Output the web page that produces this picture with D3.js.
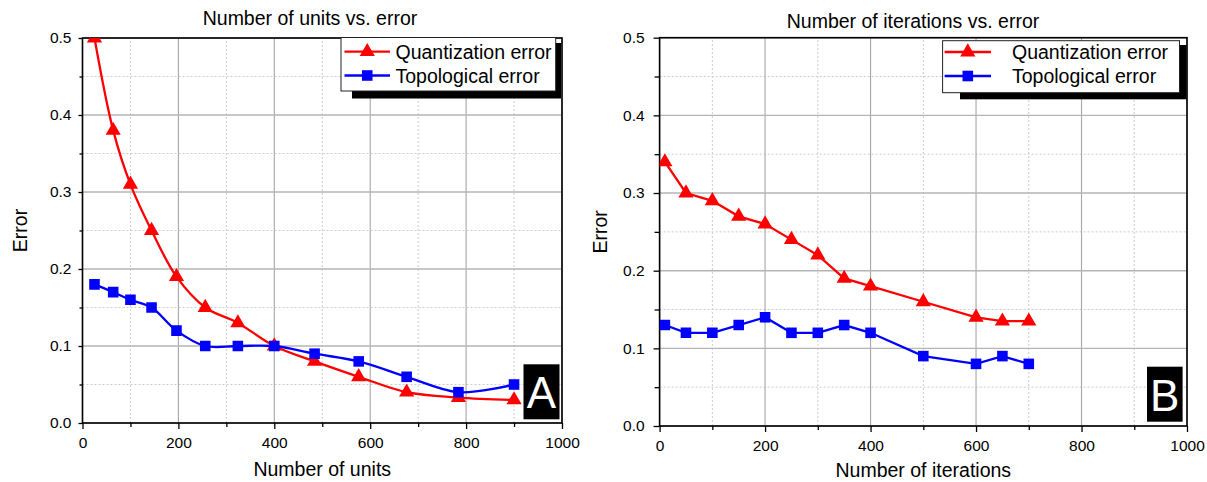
<!DOCTYPE html>
<html>
<head>
<meta charset="utf-8">
<script src="https://cdn.jsdelivr.net/npm/d3@7"></script>
<style>
  html, body { margin: 0; padding: 0; background: #fff; }
  svg { display: block; }
  text { font-family: "Liberation Sans", Arial, sans-serif; fill: #000; }
</style>
</head>
<body>
<svg id="chart" width="1207" height="482"></svg>
<script>
// ---- data ----
const unitsX     = [25, 64, 100, 144, 196, 256, 324, 400, 484, 576, 676, 784, 900];
const unitsQuant = [0.50, 0.38, 0.31, 0.25, 0.19, 0.15, 0.13, 0.10, 0.08, 0.06, 0.04, 0.033, 0.03];
const unitsTopo  = [0.18, 0.17, 0.16, 0.15, 0.12, 0.10, 0.10, 0.10, 0.09, 0.08, 0.06, 0.04, 0.05];

const iterX      = [10, 50, 100, 150, 200, 250, 300, 350, 400, 500, 600, 650, 700];
const iterQuant  = [0.34, 0.30, 0.29, 0.27, 0.26, 0.24, 0.22, 0.19, 0.18, 0.16, 0.14, 0.135, 0.135];
const iterTopo   = [0.13, 0.12, 0.12, 0.13, 0.14, 0.12, 0.12, 0.13, 0.12, 0.09, 0.08, 0.09, 0.08];

const xMajorTicks = [0, 200, 400, 600, 800, 1000];
const xMinorTicks = [100, 300, 500, 700, 900];
const yMajorTicks = [0.0, 0.1, 0.2, 0.3, 0.4, 0.5];
const yMinorTicks = [0.05, 0.15, 0.25, 0.35, 0.45];

const seriesNames = ["Quantization error", "Topological error"];
const panelTitles = ["Number of units vs. error", "Number of iterations vs. error"];
const xTitles = ["Number of units", "Number of iterations"];
const yTitle = "Error";
const panelLabels = ["A", "B"];

const RED = "#ff0000", BLUE = "#0000ff";
const svg = d3.select("#chart");

function drawPanel(o) {
  const x = d3.scaleLinear().domain([0, 1000]).range([o.x0, o.x1]);
  const y = d3.scaleLinear().domain([0, 0.5]).range([o.y0, o.y1]);
  const g = svg.append("g");

  // minor grid (dotted)
  g.selectAll(".vminor").data(xMinorTicks).enter().append("line")
    .attr("x1", d => x(d)).attr("x2", d => x(d)).attr("y1", o.y0).attr("y2", o.y1)
    .attr("stroke", "#cccccc").attr("stroke-width", 1).attr("stroke-dasharray", "2,2");
  g.selectAll(".hminor").data(yMinorTicks).enter().append("line")
    .attr("x1", o.x0).attr("x2", o.x1).attr("y1", d => y(d)).attr("y2", d => y(d))
    .attr("stroke", "#cccccc").attr("stroke-width", 1).attr("stroke-dasharray", "2,2");
  // major grid
  g.selectAll(".vmajor").data(xMajorTicks).enter().append("line")
    .attr("x1", d => x(d)).attr("x2", d => x(d)).attr("y1", o.y0).attr("y2", o.y1)
    .attr("stroke", "#a6a6a6").attr("stroke-width", 1.1);
  g.selectAll(".hmajor").data(yMajorTicks).enter().append("line")
    .attr("x1", o.x0).attr("x2", o.x1).attr("y1", d => y(d)).attr("y2", d => y(d))
    .attr("stroke", "#b4b4b4").attr("stroke-width", 1.4);

  // axes via d3
  const xAxis = d3.axisBottom(x).tickValues(xMajorTicks).tickSize(6).tickPadding(o.xPad).tickFormat(d3.format("d"));
  const xAxisMinor = d3.axisBottom(x).tickValues(xMinorTicks).tickSize(4).tickFormat("");
  const yAxis = d3.axisLeft(y).tickValues(yMajorTicks).tickSize(o.yTick).tickPadding(o.yPad).tickFormat(d3.format(".1f"));
  const yAxisMinor = d3.axisLeft(y).tickValues(yMinorTicks).tickSize(o.yTick - 1).tickFormat("");

  [[xAxis, "x"], [xAxisMinor, "x"], [yAxis, "y"], [yAxisMinor, "y"]].forEach(([ax, k]) => {
    const a = g.append("g")
      .attr("transform", k === "x" ? `translate(0,${o.y0})` : `translate(${o.x0},0)`)
      .call(ax);
    a.select(".domain").remove();
    a.selectAll("line").attr("stroke", "#000").attr("stroke-width", 1.3);
    a.selectAll("text").style("font-family", '"Liberation Sans", Arial, sans-serif')
      .style("font-size", "15.5px").attr("fill", "#000");
  });

  // frame
  g.append("rect").attr("x", o.x0).attr("y", o.y1)
    .attr("width", o.x1 - o.x0).attr("height", o.y0 - o.y1)
    .attr("fill", "none").attr("stroke", "#000").attr("stroke-width", 1.6);

  // clip
  const clipId = "clip" + o.idx;
  svg.append("clipPath").attr("id", clipId).append("rect")
    .attr("x", o.x0).attr("y", o.y1).attr("width", o.x1 - o.x0).attr("height", o.y0 - o.y1);
  const plot = g.append("g").attr("clip-path", `url(#${clipId})`);

  const series = [
    { vals: o.quant, color: RED, sym: d3.symbolTriangle, size: 100 },
    { vals: o.topo, color: BLUE, sym: d3.symbolSquare, size: 112 }
  ];
  const line = d3.line().x(d => x(d[0])).y(d => y(d[1])).curve(o.curve);
  series.forEach(s => {
    const pts = o.xs.map((v, i) => [v, s.vals[i]]);
    plot.append("path").datum(pts).attr("d", line)
      .attr("fill", "none").attr("stroke", s.color).attr("stroke-width", 2.3);
    plot.selectAll(null).data(pts).enter().append("path")
      .attr("d", d3.symbol().type(s.sym).size(s.size))
      .attr("transform", d => `translate(${x(d[0])},${y(d[1])})`)
      .attr("fill", s.color);
  });

  // titles
  svg.append("text").attr("x", o.titleX).attr("y", o.titleY).attr("text-anchor", "middle")
    .style("font-size", "19.5px").text(o.title);
  svg.append("text").attr("x", (o.x0 + o.x1) / 2).attr("y", o.xTitleY).attr("text-anchor", "middle")
    .style("font-size", "19.5px").text(o.xTitle);
  svg.append("text").attr("transform", `translate(${o.yTitleX},${(o.y0 + o.y1) / 2}) rotate(-90)`)
    .attr("text-anchor", "middle").style("font-size", "19.5px").text(yTitle);

  // legend
  const L = o.legend;
  svg.append("rect").attr("x", L.sx0).attr("y", L.sy0).attr("width", L.sx1 - L.sx0).attr("height", L.sy1 - L.sy0)
    .attr("fill", "#000");
  svg.append("rect").attr("x", L.x0).attr("y", L.y0).attr("width", L.x1 - L.x0).attr("height", L.y1 - L.y0)
    .attr("fill", "#fff").attr("stroke", "#222").attr("stroke-width", 1);
  series.forEach((s, i) => {
    const ry = L.rows[i];
    svg.append("line").attr("x1", L.lx0).attr("x2", L.lx1).attr("y1", ry).attr("y2", ry)
      .attr("stroke", s.color).attr("stroke-width", 2.3);
    svg.append("path").attr("d", d3.symbol().type(s.sym).size(s.size))
      .attr("transform", `translate(${(L.lx0 + L.lx1) / 2},${ry})`).attr("fill", s.color);
    svg.append("text").attr("x", L.tx).attr("y", ry + 7).style("font-size", "19.5px").text(seriesNames[i]);
  });

  // panel label
  const B = o.badge;
  svg.append("rect").attr("x", B.x0).attr("y", B.y0).attr("width", B.x1 - B.x0).attr("height", B.y1 - B.y0)
    .attr("fill", "#000");
  svg.append("text").attr("x", (B.x0 + B.x1) / 2).attr("y", B.y1 - 11).attr("text-anchor", "middle")
    .style("font-size", "44px").attr("fill", "#fff").style("fill", "#fff").text(o.label);
}

drawPanel({
  idx: 0, x0: 82.5, x1: 562, y0: 423, y1: 38,
  xs: unitsX, quant: unitsQuant, topo: unitsTopo, curve: d3.curveCatmullRom.alpha(0.5),
  xPad: 8, yTick: 4, yPad: 7,
  title: panelTitles[0], titleX: 310, titleY: 24.5,
  xTitle: xTitles[0], xTitleY: 476, yTitleX: 27,
  legend: { x0: 341, x1: 555.7, y0: 37.5, y1: 91, sx0: 352, sx1: 561, sy0: 43, sy1: 98.5,
            lx0: 344.5, lx1: 390, tx: 395.5, rows: [51.7, 75.5] },
  badge: { x0: 523.5, x1: 559.5, y0: 364.3, y1: 419.3 }, label: panelLabels[0]
});

drawPanel({
  idx: 1, x0: 659.6, x1: 1187, y0: 426, y1: 37.7,
  xs: iterX, quant: iterQuant, topo: iterTopo, curve: d3.curveLinear,
  xPad: 8, yTick: 6, yPad: 9,
  title: panelTitles[1], titleX: 913, titleY: 28,
  xTitle: xTitles[1], xTitleY: 477, yTitleX: 606.5,
  legend: { x0: 942.6, x1: 1179.5, y0: 40.7, y1: 92.7, sx0: 960, sx1: 1186.5, sy0: 45, sy1: 99.3,
            lx0: 944.6, lx1: 991, tx: 1012, rows: [52, 76] },
  badge: { x0: 1147, x1: 1182.6, y0: 366.7, y1: 421.7 }, label: panelLabels[1]
});
</script>
</body>
</html>
